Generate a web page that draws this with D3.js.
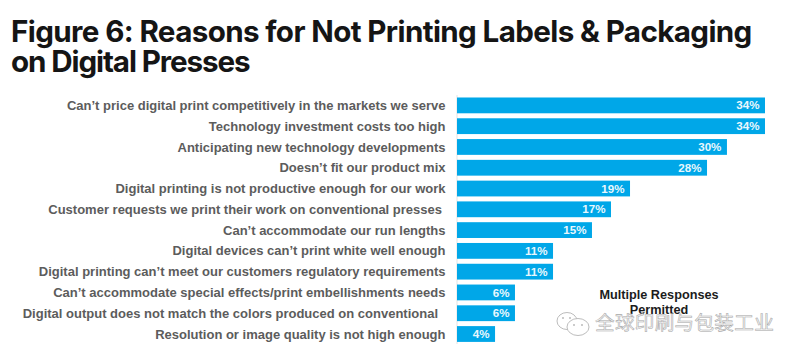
<!DOCTYPE html>
<html>
<head>
<meta charset="utf-8">
<script src="https://cdn.jsdelivr.net/npm/d3@7"></script>
<style>
html, body { margin: 0; padding: 0; background: #fff; overflow: hidden; }
</style>
</head>
<body>
<script>
var w = 800;
var h = 359;

var titleLines = ["Figure 6: Reasons for Not Printing Labels & Packaging", "on Digital Presses"];

var categories = [
    "Can\u2019t price digital print competitively in the markets we serve",
    "Technology investment costs too high",
    "Anticipating new technology developments",
    "Doesn\u2019t fit our product mix",
    "Digital printing is not productive enough for our work",
    "Customer requests we print their work on conventional presses",
    "Can\u2019t accommodate our run lengths",
    "Digital devices can\u2019t print white well enough",
    "Digital printing can\u2019t meet our customers regulatory requirements",
    "Can\u2019t accommodate special effects/print embellishments needs",
    "Digital output does not match the colors produced on conventional",
    "Resolution or image quality is not high enough"
];

// the printed labels are these rounded
var values = [34, 34, 29.8, 27.6, 19.1, 17, 14.9, 10.6, 10.6, 6.4, 6.4, 4.2];

// two labels in the source end with a space, so they stop short of the others
var labelGaps = [0, 0, 0, 0, 0, 3.5, 0, 0, 0, 0, 7.5, 0];

var noteLines = ["Multiple Responses", "Permitted"];
var watermark = "全球印刷与包装工业";

var x = d3.scaleLinear()
    .domain([0, 34])
    .range([457, 765]);

var y = d3.scaleBand()
    .domain(categories)
    .range([95, 344.4])
    .paddingInner(0.24)
    .paddingOuter(0.12);

var svg = d3.select("body")
    .append("svg")
    .attr("width", w)
    .attr("height", h)
    .style("display", "block");

svg.selectAll(".title")
    .data(titleLines)
    .enter()
    .append("text")
    .attr("class", "title")
    .attr("x", 11)
    .attr("y", function(d, i) {return 41.5 + i * 30})
    .attr("font-family", "Inter, 'Noto Sans', sans-serif")
    .attr("font-weight", 650)
    .attr("font-size", 29.6)
    .attr("letter-spacing", function(d, i) {return i ? -1.1 : -0.62})
    .attr("fill", "#151515")
    .text(function(d) {return d});

svg.append("line")
    .attr("x1", x(0))
    .attr("x2", x(0))
    .attr("y1", 95)
    .attr("y2", 344)
    .attr("stroke", "#d9d9d9")
    .attr("stroke-width", 0.75);

svg.selectAll(".bar")
    .data(values)
    .enter()
    .append("rect")
    .attr("class", "bar")
    .attr("x", x(0))
    .attr("y", function(d, i) {return y(categories[i])})
    .attr("width", function(d) {return x(d) - x(0)})
    .attr("height", y.bandwidth())
    .attr("fill", "#00a7e8");

svg.selectAll(".cat")
    .data(categories)
    .enter()
    .append("text")
    .attr("class", "cat")
    .attr("x", function(d, i) {return 445.5 - labelGaps[i]})
    .attr("y", function(d) {return y(d) + y.bandwidth() / 2})
    .attr("dy", "0.35em")
    .attr("text-anchor", "end")
    .attr("font-family", "'Liberation Sans', Arial, sans-serif")
    .attr("font-weight", 700)
    .attr("font-size", 13)
    .attr("fill", "#5c5c5c")
    .text(function(d) {return d});

svg.selectAll(".val")
    .data(values)
    .enter()
    .append("text")
    .attr("class", "val")
    .attr("x", function(d) {return x(d) - 5.5})
    .attr("y", function(d, i) {return y(categories[i]) + y.bandwidth() / 2})
    .attr("dy", "0.35em")
    .attr("text-anchor", "end")
    .attr("font-family", "'Liberation Sans', Arial, sans-serif")
    .attr("font-weight", 700)
    .attr("font-size", 11.6)
    .attr("fill", "#e8f7fd")
    .text(function(d) {return d3.format(".0f")(d) + "%"});

svg.selectAll(".note")
    .data(noteLines)
    .enter()
    .append("text")
    .attr("class", "note")
    .attr("x", 659)
    .attr("y", function(d, i) {return 299 + i * 15})
    .attr("text-anchor", "middle")
    .attr("font-family", "'Liberation Sans', Arial, sans-serif")
    .attr("font-weight", 700)
    .attr("font-size", 12.7)
    .attr("fill", "#1c1c1c")
    .text(function(d) {return d});

// wechat style watermark
var mark = svg.append("g")
    .attr("fill", "#ffffff")
    .attr("stroke", "#b4b4b4")
    .attr("stroke-width", 0.9);

mark.append("ellipse")
    .attr("cx", 567)
    .attr("cy", 321)
    .attr("rx", 10)
    .attr("ry", 8.5);

mark.append("ellipse")
    .attr("cx", 578)
    .attr("cy", 327)
    .attr("rx", 11)
    .attr("ry", 8.5);

mark.selectAll(".eye")
    .data([[563, 318], [570, 318], [574, 325], [582, 325]])
    .enter()
    .append("circle")
    .attr("class", "eye")
    .attr("cx", function(d) {return d[0]})
    .attr("cy", function(d) {return d[1]})
    .attr("r", 0.9)
    .attr("fill", "#b4b4b4")
    .attr("stroke", "none");

svg.append("text")
    .attr("x", 595)
    .attr("y", 330)
    .attr("font-family", "'Noto Sans CJK SC', sans-serif")
    .attr("font-size", 19.6)
    .attr("letter-spacing", 0.3)
    .attr("fill", "#f6f6f6")
    .attr("stroke", "#a8a8a8")
    .attr("stroke-width", 0.55)
    .text(watermark);
</script>
</body>
</html>
